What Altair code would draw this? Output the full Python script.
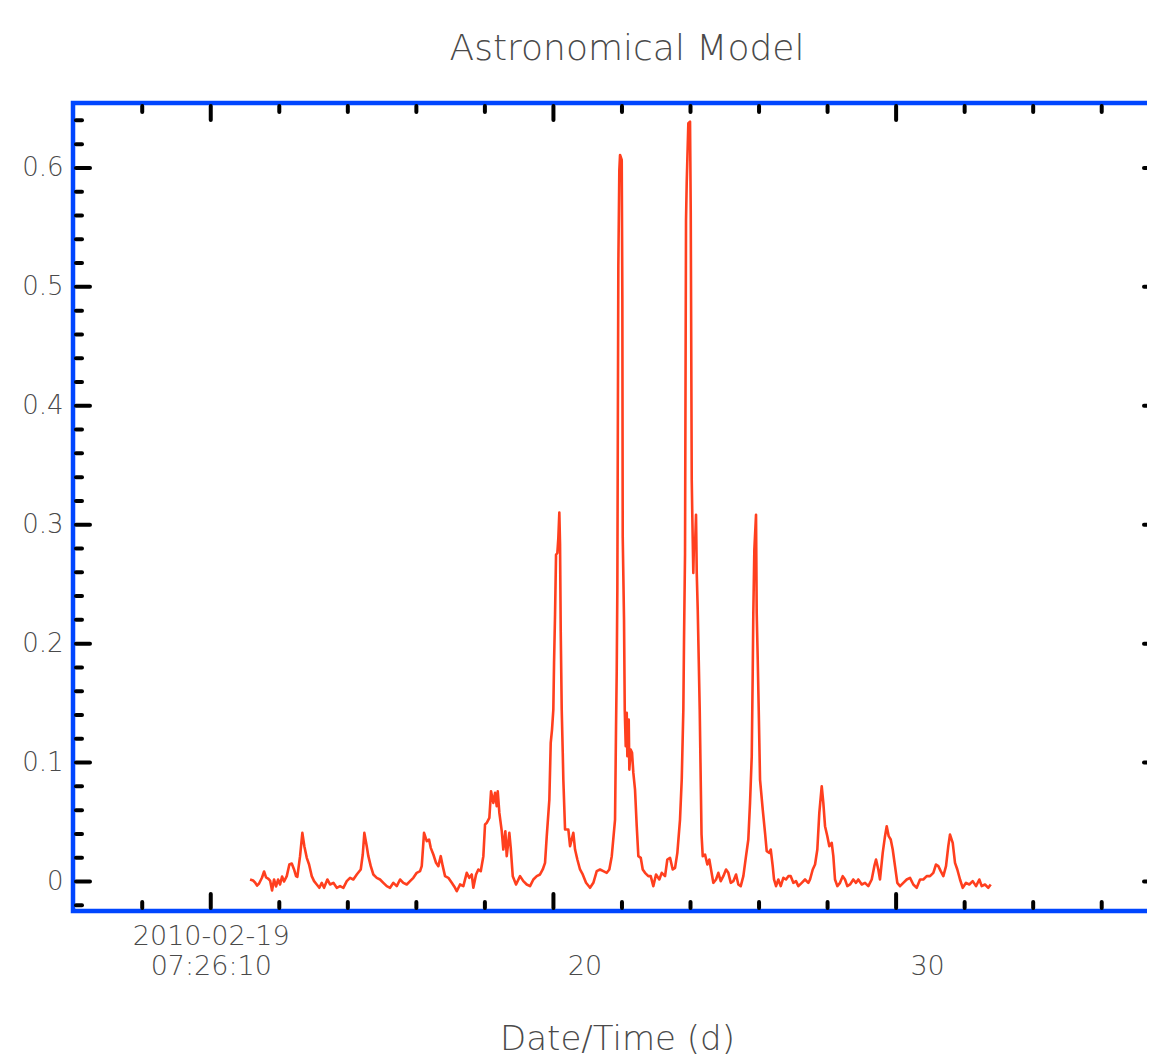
import altair as alt
import pandas as pd

days = [11.147, 11.235, 11.293, 11.351, 11.410, 11.497, 11.556, 11.614, 11.672, 11.731,
        11.789, 11.847, 11.906, 11.964, 12.022, 12.081, 12.139, 12.218, 12.294, 12.364,
        12.431, 12.489, 12.527, 12.606, 12.673, 12.731, 12.802, 12.869, 12.947, 13.015,
        13.093, 13.169, 13.239, 13.306, 13.403, 13.481, 13.578, 13.677, 13.773, 13.870,
        13.969, 14.065, 14.161, 14.261, 14.377, 14.436, 14.482, 14.552, 14.599, 14.669,
        14.745, 14.844, 14.940, 15.037, 15.136, 15.232, 15.329, 15.428, 15.524, 15.620,
        15.719, 15.816, 15.912, 16.011, 16.108, 16.157, 16.224, 16.303, 16.370, 16.420,
        16.496, 16.574, 16.642, 16.712, 16.770, 16.837, 16.933, 17.033, 17.129, 17.179,
        17.275, 17.371, 17.470, 17.546, 17.616, 17.663, 17.742, 17.809, 17.879, 17.955,
        18.004, 18.054, 18.130, 18.179, 18.247, 18.296, 18.346, 18.375, 18.422, 18.492,
        18.538, 18.597, 18.637, 18.713, 18.754, 18.813, 18.909, 19.026, 19.122, 19.221,
        19.317, 19.414, 19.513, 19.609, 19.688, 19.755, 19.805, 19.881, 19.921, 19.959,
        19.997, 20.018, 20.047, 20.076, 20.114, 20.143, 20.172, 20.193, 20.213, 20.242,
        20.272, 20.289, 20.339, 20.435, 20.485, 20.581, 20.631, 20.698, 20.776, 20.855,
        20.952, 21.068, 21.165, 21.264, 21.360, 21.456, 21.556, 21.631, 21.702, 21.798,
        21.827, 21.847, 21.865, 21.894, 21.923, 21.944, 21.993, 22.011, 22.022, 22.060,
        22.081, 22.110, 22.139, 22.157, 22.197, 22.215, 22.256, 22.294, 22.332, 22.381,
        22.431, 22.478, 22.548, 22.606, 22.673, 22.769, 22.839, 22.915, 22.994, 23.090,
        23.160, 23.257, 23.324, 23.403, 23.481, 23.549, 23.616, 23.694, 23.744, 23.791,
        23.811, 23.840, 23.869, 23.890, 23.937, 23.986, 24.007, 24.036, 24.053, 24.082,
        24.103, 24.132, 24.161, 24.182, 24.211, 24.240, 24.269, 24.298, 24.322, 24.357,
        24.424, 24.491, 24.549, 24.599, 24.666, 24.745, 24.812, 24.882, 24.958, 25.037,
        25.104, 25.174, 25.250, 25.329, 25.396, 25.466, 25.542, 25.620, 25.687, 25.737,
        25.787, 25.816, 25.833, 25.863, 25.912, 25.932, 25.962, 25.991, 26.029, 26.108,
        26.175, 26.224, 26.300, 26.341, 26.399, 26.437, 26.496, 26.563, 26.633, 26.709,
        26.787, 26.855, 26.925, 27.001, 27.079, 27.147, 27.246, 27.342, 27.438, 27.488,
        27.567, 27.634, 27.701, 27.759, 27.829, 27.876, 27.926, 27.993, 28.051, 28.121,
        28.168, 28.217, 28.285, 28.363, 28.442, 28.509, 28.576, 28.655, 28.751, 28.830,
        28.897, 28.997, 29.093, 29.189, 29.288, 29.364, 29.414, 29.481, 29.530, 29.609,
        29.676, 29.726, 29.784, 29.843, 29.901, 29.968, 30.035, 30.114, 30.210, 30.309,
        30.406, 30.502, 30.601, 30.698, 30.794, 30.893, 30.989, 31.086, 31.164, 31.232,
        31.302, 31.378, 31.456, 31.523, 31.573, 31.652, 31.719, 31.786, 31.865, 31.944,
        32.040, 32.136, 32.235, 32.332, 32.428, 32.498, 32.594, 32.690, 32.761]

values = [0.0017, 0.0008, -0.0008, -0.0034, -0.0017, 0.0034, 0.0084, 0.0034, 0.0025, 0.0008,
          -0.0076, 0.0017, -0.0042, 0.0017, -0.0025, 0.0042, 0.0000, 0.0045, 0.0143, 0.0151,
          0.0101, 0.0045, 0.0039, 0.0213, 0.0409, 0.0297, 0.0199, 0.0143, 0.0045, 0.0003,
          -0.0025, -0.0053, -0.0011, -0.0053, 0.0017, -0.0025, -0.0011, -0.0053, -0.0039, -0.0053,
          0.0003, 0.0031, 0.0017, 0.0059, 0.0101, 0.0227, 0.0409, 0.0297, 0.0213, 0.0129,
          0.0059, 0.0031, 0.0017, -0.0011, -0.0039, -0.0053, -0.0011, -0.0039, 0.0017, -0.0011,
          -0.0025, 0.0003, 0.0031, 0.0073, 0.0087, 0.0129, 0.0409, 0.0339, 0.0353, 0.0283,
          0.0227, 0.0157, 0.0129, 0.0213, 0.0129, 0.0045, 0.0031, -0.0011, -0.0053, -0.0082,
          -0.0025, -0.0039, 0.0073, 0.0031, 0.0059, -0.0053, 0.0059, 0.0101, 0.0087, 0.0213,
          0.0479, 0.0493, 0.0535, 0.0759, 0.0661, 0.0745, 0.0633, 0.0759, 0.0577, 0.0423,
          0.0269, 0.0423, 0.0213, 0.0409, 0.0283, 0.0045, -0.0025, 0.0045, 0.0003, -0.0025,
          -0.0039, 0.0017, 0.0045, 0.0059, 0.0101, 0.0157, 0.0381, 0.0689, 0.1166, 0.1277,
          0.1445, 0.1838, 0.2244, 0.2748, 0.2762, 0.2888, 0.3103, 0.2832, 0.2103, 0.1445,
          0.1082, 0.0857, 0.0437, 0.0437, 0.0297, 0.0409, 0.0269, 0.0185, 0.0101, 0.0059,
          -0.0011, -0.0053, -0.0011, 0.0087, 0.0101, 0.0087, 0.0073, 0.0101, 0.0213, 0.0521,
          0.1305, 0.1767, 0.2454, 0.5178, 0.5983, 0.6109, 0.6067, 0.4891, 0.2902, 0.2202,
          0.1445, 0.1137, 0.1418, 0.1053, 0.1361, 0.0941, 0.1109, 0.1082, 0.0913, 0.0773,
          0.0465, 0.0213, 0.0199, 0.0101, 0.0073, 0.0045, 0.0045, -0.0039, 0.0059, 0.0017,
          0.0073, 0.0045, 0.0185, 0.0199, 0.0101, 0.0115, 0.0241, 0.0521, 0.0857, 0.1445,
          0.2034, 0.2748, 0.5563, 0.5885, 0.6376, 0.6389, 0.5622, 0.3378, 0.3070, 0.2594,
          0.2874, 0.2818, 0.3084, 0.2594, 0.2286, 0.1866, 0.1445, 0.0857, 0.0395, 0.0213,
          0.0227, 0.0143, 0.0185, 0.0101, -0.0011, 0.0017, 0.0073, 0.0003, 0.0045, 0.0101,
          0.0073, -0.0011, 0.0003, 0.0059, -0.0025, -0.0039, 0.0045, 0.0213, 0.0353, 0.0661,
          0.1053, 0.1767, 0.2258, 0.2790, 0.3084, 0.2258, 0.1866, 0.1445, 0.0857, 0.0605,
          0.0409, 0.0255, 0.0241, 0.0269, 0.0129, 0.0017, -0.0039, 0.0017, -0.0039, 0.0031,
          0.0017, 0.0045, 0.0045, -0.0011, 0.0003, -0.0039, -0.0011, 0.0017, -0.0011, 0.0017,
          0.0101, 0.0143, 0.0269, 0.0577, 0.0801, 0.0661, 0.0465, 0.0381, 0.0297, 0.0325,
          0.0213, 0.0017, -0.0039, -0.0011, 0.0045, 0.0017, -0.0039, -0.0025, 0.0017, -0.0011,
          0.0017, -0.0025, -0.0011, -0.0039, 0.0017, 0.0129, 0.0185, 0.0101, 0.0017, 0.0241,
          0.0381, 0.0465, 0.0381, 0.0353, 0.0269, 0.0129, -0.0011, -0.0039, -0.0011, 0.0017,
          0.0031, -0.0025, -0.0053, 0.0017, 0.0017, 0.0045, 0.0045, 0.0073, 0.0143, 0.0129,
          0.0087, 0.0045, 0.0129, 0.0297, 0.0395, 0.0325, 0.0157, 0.0101, 0.0017, -0.0053,
          -0.0011, -0.0025, 0.0003, -0.0039, 0.0017, -0.0039, -0.0025, -0.0053, -0.0025]

y_major = [0.0, 0.1, 0.2, 0.3, 0.4, 0.5, 0.6]
y_minor = [-0.02, 0.02, 0.04, 0.06, 0.08, 0.12, 0.14, 0.16, 0.18, 0.22, 0.24, 0.26, 0.28,
           0.32, 0.34, 0.36, 0.38, 0.42, 0.44, 0.46, 0.48, 0.52, 0.54, 0.56, 0.58, 0.62, 0.64]
x_major = [10, 20, 30]
x_minor = [8, 12, 14, 16, 18, 22, 24, 26, 28, 32, 34, 36]
chart_title = ["Astronomical Model"]

X_DOMAIN = [5.98, 37.73]
Y_DOMAIN = [-0.0248, 0.6546]
W, H = 1088, 808
FONT = "DejaVu Sans"
FW = 200
TXT = "#4a4a4a"
BLUE = "#0046ff"
RED = "#ff3f1e"

xs = alt.Scale(domain=X_DOMAIN, nice=False, zero=False)
ys = alt.Scale(domain=Y_DOMAIN, nice=False, zero=False)

df = pd.DataFrame({"day": days, "value": values})

line = alt.Chart(df).mark_line(color=RED, strokeWidth=2.6, strokeJoin="round").encode(
    x=alt.X("day:Q", scale=xs,
            axis=alt.Axis(values=x_major, ticks=False, domain=False, grid=False,
                          labelExpr="datum.value == 10 ? ['2010-02-19', '07:26:10'] : ['', datum.label]",
                          labelOffset={"condition": {"test": "datum.value > 10", "value": 31}, "value": 0},
                          labelFontSize=27, labelLineHeight=30, labelPadding=12,
                          labelFlush=False, labelOverlap=False, labelBaseline="top",
                          title="Date/Time (d)", titleFontSize=34, titleY=138,
                          titleBaseline="alphabetic")),
    y=alt.Y("value:Q", scale=ys,
            axis=alt.Axis(values=y_major, ticks=False, domain=False, grid=False,
                          labelExpr="datum.value == 0 ? '0' : format(datum.value, '.1f')",
                          labelFontSize=26, labelPadding=10, title=None)),
)

tick_style = dict(color="black", strokeWidth=4, strokeCap="round")

ymaj = pd.DataFrame({"v": y_major})
ymin = pd.DataFrame({"v": y_minor})
xmaj = pd.DataFrame({"v": x_major})
xmin = pd.DataFrame({"v": x_minor})

def yticks(data, length, side):
    x0 = 3 if side == "left" else W - 3
    x1 = x0 + length if side == "left" else x0 - length
    return alt.Chart(data).mark_rule(**tick_style).encode(
        y=alt.Y("v:Q", scale=ys), x=alt.value(x0), x2=alt.value(x1))

def xticks(data, length, side):
    y0 = H - 3 if side == "bottom" else 3
    y1 = y0 - length if side == "bottom" else y0 + length
    return alt.Chart(data).mark_rule(**tick_style).encode(
        x=alt.X("v:Q", scale=xs), y=alt.value(y0), y2=alt.value(y1))

title_layer = alt.Chart(pd.DataFrame({"t": chart_title})).mark_text(
    font=FONT, fontSize=36, fontWeight=FW, color=TXT, align="center", baseline="alphabetic"
).encode(text="t:N", x=alt.value(554), y=alt.value(-43))

layers = [
    line,
    yticks(ymaj, 14, "left"), yticks(ymin, 6, "left"),
    yticks(ymaj, 14, "right"), yticks(ymin, 6, "right"),
    xticks(xmaj, 14, "bottom"), xticks(xmin, 6, "bottom"),
    xticks(xmaj, 14, "top"), xticks(xmin, 6, "top"),
    title_layer,
]

chart = alt.layer(*layers).properties(
    width=W, height=H,
    autosize="none",
    padding={"left": 65, "top": 95, "right": -14, "bottom": 146},
).configure_view(stroke=BLUE, strokeWidth=4.5).configure_axis(
    labelFont=FONT, titleFont=FONT, labelColor=TXT, titleColor=TXT,
    titleFontWeight=FW, labelFontWeight=FW,
)

chart.save("out.html", embed_options={"renderer": "svg", "actions": False})
